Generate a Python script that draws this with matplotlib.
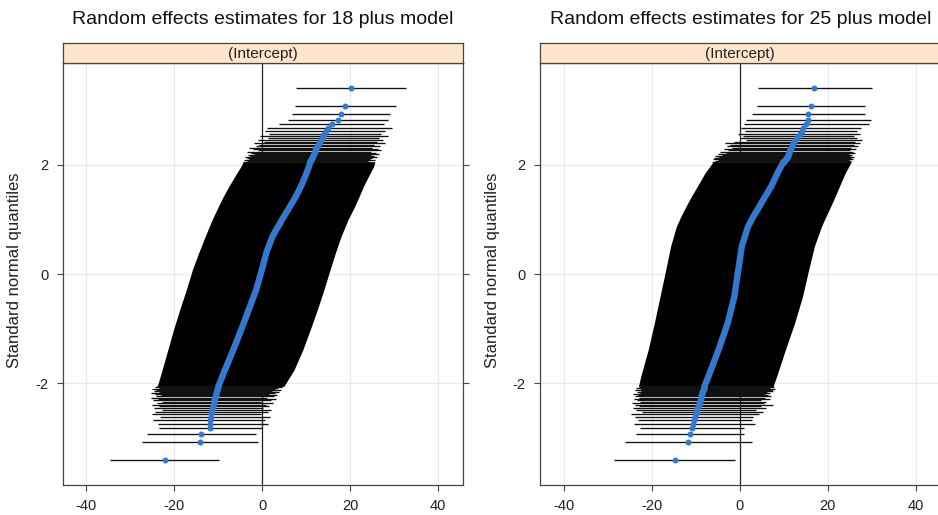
"""Random effects (Intercept) caterpillar / qq plots for the 18+ and 25+ models."""

from statistics import NormalDist

import matplotlib

matplotlib.use("Agg")
import matplotlib.pyplot as plt

plt.rcParams["font.family"] = ["Liberation Sans", "DejaVu Sans"]
plt.rcParams["axes.unicode_minus"] = False

# number of groups in each model (sets the normal quantile positions)
n_groups = 1500

titles = ["Random effects estimates for 18 plus model",
          "Random effects estimates for 25 plus model"]
strip_label = "(Intercept)"
x_ticks = [-40, -20, 0, 20, 40]
y_ticks = [-2, 0, 2]

# --- 18 plus model ---------------------------------------------------------
# dense middle of the plot, read at a few quantile levels
m18_body_q = [2.06, 1.97, 1.80, 1.61, 1.42, 1.24, 1.00, 0.69, 0.385, 0.08,
              -0.29, -0.655, -1.02, -1.39, -1.76, -2.06]
m18_body_est = [10.9, 10.6, 9.8, 8.8, 7.6, 6.3, 4.5, 2.3, 0.9, -0.1,
                -1.4, -3.1, -4.8, -6.6, -8.5, -10.0]
m18_body_lo = [-4.3, -4.9, -6.2, -7.6, -8.9, -10.0, -11.4, -13.0, -14.5, -15.9,
               -17.3, -18.8, -20.2, -21.5, -22.8, -23.9]
m18_body_hi = [25.6, 25.3, 24.2, 23.0, 22.0, 21.0, 19.5, 17.9, 16.6, 15.4,
               14.0, 12.5, 10.9, 9.2, 7.2, 4.9]
# 30 largest groups, from the top
m18_top_est = [20.2, 18.9, 17.8, 17.3, 15.8, 14.9, 14.5, 14.1, 13.8, 13.5,
               13.3, 13.1, 12.9, 12.7, 12.5, 12.3, 12.1, 12.0, 11.9, 11.8,
               11.7, 11.6, 11.5, 11.4, 11.3, 11.2, 11.1, 11.0, 10.95, 10.9]
m18_top_lo = [7.7, 7.4, 6.8, 5.8, 3.9, 1.0, 0.5, 1.5, -0.5, 1.2,
              -1.0, 0.3, -2.0, -0.8, -1.5, -3.0, -2.2, -1.0, -3.5, -2.5,
              -1.8, -3.2, -2.8, -4.0, -2.6, -3.6, -3.0, -4.2, -3.4, -4.5]
m18_top_hi = [32.6, 30.3, 29.0, 28.5, 27.7, 29.4, 28.0, 27.0, 28.6, 26.5,
              27.5, 26.0, 27.8, 25.5, 26.8, 25.0, 26.2, 27.0, 24.6, 25.8,
              26.5, 24.8, 25.4, 26.0, 24.2, 25.0, 24.5, 25.6, 24.0, 24.8]
# 30 smallest groups, from the bottom
m18_bot_est = [-22.1, -14.2, -13.9, -12.0, -11.9, -11.8, -11.7, -11.6, -11.5, -11.45,
               -11.4, -11.3, -11.2, -11.1, -11.0, -10.95, -10.9, -10.8, -10.7, -10.65,
               -10.6, -10.5, -10.45, -10.4, -10.3, -10.25, -10.2, -10.15, -10.1, -10.0]
m18_bot_lo = [-34.6, -27.3, -26.3, -23.6, -23.8, -24.9, -23.2, -25.0, -24.3, -22.8,
              -24.6, -23.5, -25.2, -24.0, -22.9, -24.8, -23.7, -25.3, -24.1, -23.0,
              -24.5, -25.4, -23.4, -24.7, -22.6, -24.2, -25.0, -23.6, -24.4, -24.0]
m18_bot_hi = [-9.8, -1.1, -1.4, 0.0, 1.4, 0.5, 1.8, -0.3, 1.2, 2.0,
              0.2, 1.6, 0.8, 2.4, -0.2, 1.9, 3.0, 1.0, 2.6, 3.4,
              1.5, 2.8, 3.8, 2.2, 3.2, 4.2, 2.9, 3.6, 4.5, 4.8]

# --- 25 plus model ---------------------------------------------------------
m25_body_q = [2.06, 1.85, 1.61, 1.42, 1.24, 1.05, 0.87, 0.51, 0.08, -0.41,
              -0.90, -1.39, -1.88, -2.06]
m25_body_est = [10.0, 8.6, 7.2, 5.8, 4.5, 3.1, 1.9, 0.5, -0.3, -1.2,
                -2.7, -4.8, -7.1, -8.0]
m25_body_lo = [-6.0, -7.9, -9.6, -11.0, -12.2, -13.4, -14.4, -15.7, -16.8, -18.1,
               -19.4, -20.8, -22.5, -23.0]
m25_body_hi = [25.4, 24.0, 22.7, 21.7, 20.7, 19.6, 18.6, 17.0, 15.7, 14.3,
               12.5, 10.4, 8.4, 7.6]
m25_top_est = [17.0, 16.3, 15.6, 15.5, 15.0, 14.5, 14.1, 13.7, 13.3, 13.0,
               12.7, 12.4, 12.2, 12.0, 11.8, 11.6, 11.5, 11.4, 11.3, 11.2,
               11.1, 11.0, 10.9, 10.8, 10.7, 10.6, 10.5, 10.4, 10.2, 10.0]
m25_top_lo = [4.2, 3.9, 2.7, 1.4, 1.1, 0.2, 1.3, -0.4, 0.8, 0.0,
              1.5, -1.2, -3.4, -2.3, -2.9, -1.8, -3.6, -2.6, -4.5, -3.2,
              -5.0, -4.0, -5.6, -4.6, -5.8, -5.2, -6.1, -4.9, -5.5, -6.2]
m25_top_hi = [30.1, 28.6, 28.6, 29.9, 29.5, 27.7, 26.8, 27.4, 25.9, 26.6,
              27.9, 26.2, 27.3, 26.0, 27.0, 25.4, 26.5, 25.0, 25.8, 26.3,
              24.8, 25.6, 25.2, 26.0, 24.6, 25.3, 25.7, 24.9, 25.4, 25.2]
m25_bot_est = [-14.8, -11.75, -11.4, -10.75, -10.5, -10.3, -10.1, -9.95, -9.8, -9.7,
               -9.6, -9.45, -9.3, -9.2, -9.1, -9.0, -8.9, -8.85, -8.8, -8.7,
               -8.6, -8.55, -8.5, -8.4, -8.35, -8.3, -8.2, -8.15, -8.1, -8.0]
m25_bot_lo = [-28.6, -26.0, -23.6, -22.7, -24.1, -23.2, -23.8, -24.6, -22.3, -23.5,
              -24.3, -22.8, -23.9, -24.5, -22.6, -23.3, -24.0, -22.9, -23.7, -23.1,
              -24.2, -22.7, -23.4, -22.5, -23.8, -23.0, -22.4, -23.6, -22.8, -23.0]
m25_bot_hi = [-1.0, 2.7, 1.1, 1.1, 3.4, 2.7, 3.0, 4.5, 5.2, 3.8,
              6.0, 4.8, 7.5, 5.5, 6.1, 4.9, 6.8, 5.7, 7.2, 6.4,
              5.8, 7.0, 6.2, 7.6, 6.7, 7.3, 8.0, 6.9, 7.8, 7.6]

panels = [
    (m18_body_q, m18_body_est, m18_body_lo, m18_body_hi,
     m18_top_est, m18_top_lo, m18_top_hi, m18_bot_est, m18_bot_lo, m18_bot_hi),
    (m25_body_q, m25_body_est, m25_body_lo, m25_body_hi,
     m25_top_est, m25_top_lo, m25_top_hi, m25_bot_est, m25_bot_lo, m25_bot_hi),
]

# normal quantiles of the extreme ranks, as qqmath places them
nd = NormalDist()
top_q = [nd.inv_cdf(1 - (k - 0.5) / n_groups) for k in range(1, 31)]
bot_q = [-q for q in top_q]

blue = "#3579cf"
frame = "#444444"
W, H = 938, 515

fig = plt.figure(figsize=(W / 100, H / 100), dpi=100)

for i, (bq, be, bl, bh, te, tl, th, oe, ol, oh) in enumerate(panels):
    left = 62.7 if i == 0 else 540.0
    width = 400.6
    ax = fig.add_axes([left / W, 1 - 485 / H, width / W, 422 / H])
    strip = fig.add_axes([left / W, 1 - 63.3 / H, width / W, 20.3 / H])

    ax.set_xlim(-45.4, 45.7)
    ax.set_ylim(-3.87, 3.87)
    ax.set_xticks(x_ticks)
    ax.set_yticks(y_ticks)
    ax.grid(True, color="#e4eaee", lw=0.8)
    ax.set_axisbelow(True)
    ax.axvline(0, color="#222222", lw=0.9, zorder=1.5)

    # interval bars and estimates
    ax.fill_betweenx(bq, bl, bh, color="black", lw=0, zorder=2)
    ax.hlines(top_q, tl, th, color="#111111", lw=0.95, zorder=2)
    ax.hlines(bot_q, ol, oh, color="#111111", lw=0.95, zorder=2)
    ax.plot(be, bq, color=blue, lw=4.6, solid_capstyle="round",
            solid_joinstyle="round", zorder=3)
    ax.plot(te, top_q, "o", ms=4.3, color=blue, mec="none", zorder=3)
    ax.plot(oe, bot_q, "o", ms=4.3, color=blue, mec="none", zorder=3)

    ax.tick_params(direction="out", length=4.3, width=0.8, color=frame,
                   labelsize=10.5, pad=6, right=True, labelcolor="#222222")
    for s in ax.spines.values():
        s.set_color(frame)
        s.set_linewidth(0.9)

    strip.set_facecolor("#ffe5cc")
    strip.set_xticks([])
    strip.set_yticks([])
    for s in strip.spines.values():
        s.set_color(frame)
        s.set_linewidth(0.9)
    strip.text(0.5, 0.47, strip_label, ha="center", va="center", fontsize=11,
               color="#222222", transform=strip.transAxes)

    cx = (left + width / 2) / W
    fig.text(cx, 1 - 20 / H, titles[i], ha="center", va="center", fontsize=14,
             color="#111111")
    fig.text((left - 48) / W, 1 - 270 / H, "Standard normal quantiles",
             rotation=90, ha="center", va="center", fontsize=12, color="#222222")

fig.savefig("out.png", dpi=100)
